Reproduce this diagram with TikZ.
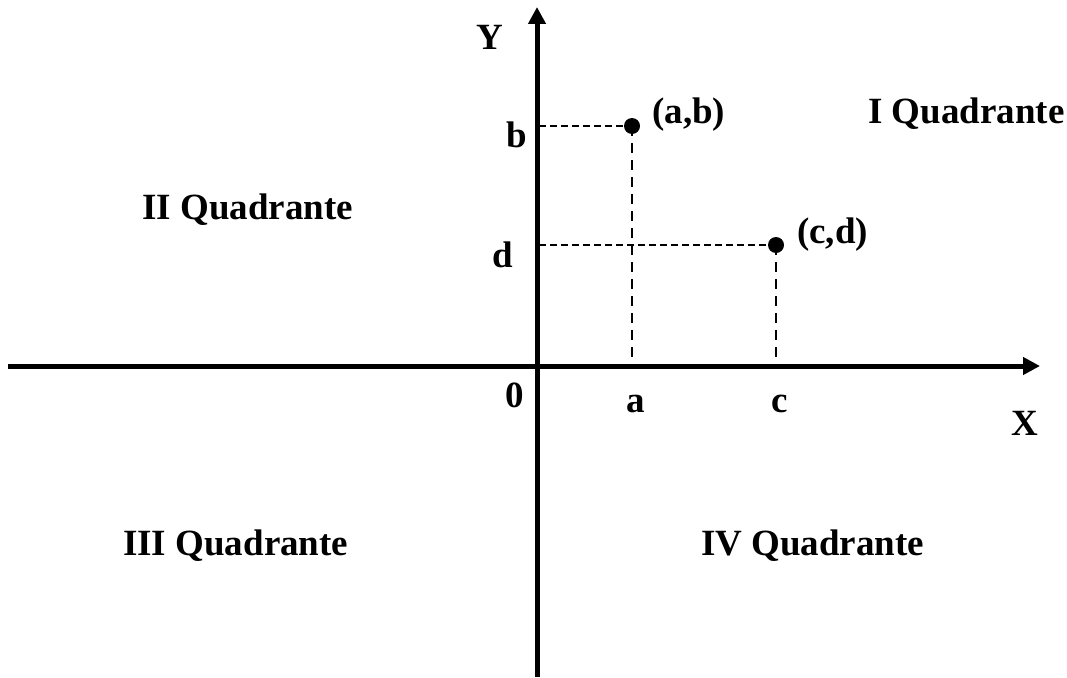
\documentclass[tikz,border=0pt]{standalone}
\usepackage{fontspec}
\setmainfont{Liberation Serif}
\usetikzlibrary{arrows.meta}
\begin{document}
\begin{tikzpicture}[x=1pt,y=-1pt,
  axisline/.style={line width=5pt,-{Triangle[length=17pt,width=17pt]}},
  hguide/.style={line width=2pt,dash pattern=on 7pt off 4pt},
  vguide/.style={line width=2pt,dash pattern=on 10pt off 7pt},
  dotpt/.style={circle,fill=black,inner sep=0pt,minimum size=16pt},
  lbl/.style={font=\fontsize{37}{40}\selectfont\bfseries,inner sep=0pt,anchor=base},
  lblw/.style={lbl,anchor=base west}]
\useasboundingbox (0,0) rectangle (1067,677);
% axes
\coordinate (xs) at (8,366);
\coordinate (xe) at (1040,366);
\coordinate (ys) at (537,677);
\coordinate (ye) at (537,7);
\draw[axisline] (xs) -- (xe);
\draw[axisline] (ys) -- (ye);
% points
\node[dotpt] (P1) at (632,126) {};
\node[dotpt] (P2) at (776,245) {};
\coordinate (yb) at (539,126);
\coordinate (yd) at (539,245);
\coordinate (xa) at (632,364);
\coordinate (xc) at (776,364);
\draw[hguide] (yb) -- (P1.center);
\draw[vguide] (P1.center) -- (xa);
\draw[hguide] (yd) -- (P2.center);
\draw[vguide] (P2.center) -- (xc);
% labels
\node[lbl] (lY) at (490,50) {Y};
\node[lbl] (lX) at (1025,435) {X};
\node[lbl] (lb) at (517,147) {b};
\node[lbl] (ld) at (503,267) {d};
\node[lbl] (l0) at (515,407) {0};
\node[lbl] (la) at (636,412) {a};
\node[lbl] (lc) at (780,412) {c};
\node[lblw] (lab) at (652,123) {(a,b)};
\node[lblw] (lcd) at (797,243) {(c,d)};
\node[lblw] (q1) at (868,123) {I Quadrante};
\node[lblw] (q2) at (142,219) {II Quadrante};
\node[lblw] (q3) at (123,555) {III Quadrante};
\node[lblw] (q4) at (701,555) {IV Quadrante};
\end{tikzpicture}
\end{document}
